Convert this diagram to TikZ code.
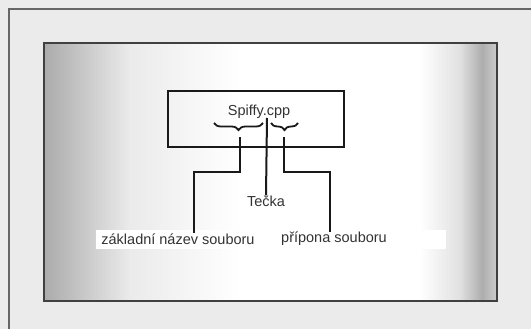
\documentclass[tikz,border=0pt]{standalone}
\usepackage{fontspec}
\setmainfont{Liberation Sans}
\usetikzlibrary{decorations.pathreplacing}
\definecolor{bgpaper}{gray}{0.92}
\definecolor{frame}{gray}{0.25}
\definecolor{ink}{gray}{0.1}
\definecolor{txt}{gray}{0.2}
\tikzset{
  framestyle/.style={draw=frame, line width=2.2pt},
  lead/.style={draw=ink, line width=2pt},
  bracestyle/.style={draw=ink, line width=1.8pt, decorate, decoration={brace, amplitude=7pt, mirror}},
  lbl/.style={font=\fontsize{14.5}{16}\selectfont, text=txt, inner sep=0pt}
}
\begin{document}
\begin{tikzpicture}[x=1pt, y=-1pt]
\useasboundingbox (0,0) rectangle (531,329);
\fill[bgpaper] (0,0) rectangle (531,329);
% outer frame
\draw[framestyle, draw=frame!80] (9,340) -- (9,9) -- (540,9);
% inner frame gradient
\shade[left color=black!33, right color=black!8] (44,43) rectangle (130,301);
\shade[left color=black!8, right color=white] (130,43) rectangle (240,301);
\fill[white] (240,43) rectangle (420,301);
\shade[left color=white, right color=black!12] (420,43) rectangle (460,301);
\shade[left color=black!12, right color=black!32] (460,43) rectangle (482,301);
\shade[left color=black!32, right color=black!20] (482,43) rectangle (497,301);
\draw[framestyle] (44,43) rectangle (497,301);
% label band
\fill[white] (96,230) rectangle (446,249);
% file box
\node[draw=ink, line width=1.6pt, minimum width=176pt, minimum height=56pt, inner sep=0pt] (box) at (256,119) {};
\node[lbl] (name) at (259,112) {Spiffy.cpp};
% braces
\coordinate (lb1) at (214,123);
\coordinate (lb2) at (263,123);
\coordinate (rb1) at (271,123);
\coordinate (rb2) at (298,123);
\draw[bracestyle] (lb1) -- (lb2);
\draw[bracestyle] (rb1) -- (rb2);
\coordinate (ltip) at (240,137);
\coordinate (rtip) at (284,137);
% labels
\node[lbl] (dot) at (266,201) {Tečka};
\node[lbl] (base) at (178,239) {základní název souboru};
\node[lbl] (ext) at (334,239) {přípona souboru};
% leads
\draw[lead] (ltip) -- (240,172) -| (base.north -| 194,0);
\draw[lead] (rtip) -- (284,172) -| (ext.north -| 330,0);
\draw[lead] (267,118) -- (dot.north);
\end{tikzpicture}
\end{document}
